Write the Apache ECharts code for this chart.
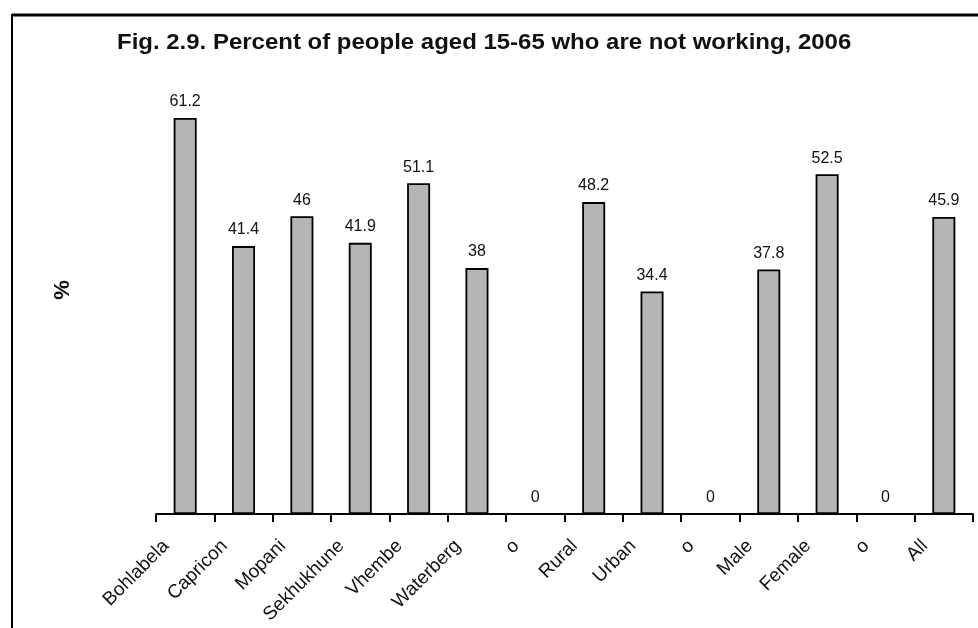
<!DOCTYPE html>
<html>
<head>
<meta charset="utf-8">
<script src="https://cdn.jsdelivr.net/npm/echarts@6/dist/echarts.min.js"></script>
<style>
html,body{margin:0;padding:0;background:#fff;}
#c{width:978px;height:628px;}
</style>
</head>
<body>
<div id="c"></div>
<script>
var categories = ['Bohlabela','Capricon','Mopani','Sekhukhune','Vhembe','Waterberg','o','Rural','Urban','o','Male','Female','o','All'];
var values = [61.2, 41.4, 46, 41.9, 51.1, 38, 0, 48.2, 34.4, 0, 37.8, 52.5, 0, 45.9];
var titleText = 'Fig. 2.9. Percent of people aged 15-65 who are not working, 2006';
var yName = '%';

var FONT = 'Liberation Sans, Arial, sans-serif';
var chart = echarts.init(document.getElementById('c'));
chart.setOption({
  animation: false,
  backgroundColor: '#fff',
  graphic: [
    {type: 'line', shape: {x1: 12, y1: 15, x2: 978, y2: 15}, style: {stroke: '#000', lineWidth: 3}},
    {type: 'line', shape: {x1: 12, y1: 14, x2: 12, y2: 628}, style: {stroke: '#000', lineWidth: 2}},
    {type: 'text', x: 117, y: 32, scaleX: 1.09,
     style: {text: titleText, font: 'bold 22px ' + FONT, fill: '#111', align: 'left', verticalAlign: 'top'}},
    {type: 'text', x: 63, y: 290, rotation: Math.PI / 2,
     style: {text: yName, font: 'bold 22px ' + FONT, fill: '#111', align: 'center', verticalAlign: 'middle'}}
  ],
  grid: {left: 156, right: 5, top: 61, bottom: 114},
  xAxis: {
    type: 'category',
    data: categories,
    axisLine: {lineStyle: {color: '#000', width: 2}},
    axisTick: {show: true, length: 8, lineStyle: {color: '#000', width: 2}},
    axisLabel: {
      rotate: 45, margin: 10, interval: 0,
      padding: [0, 27, 0, 0],
      fontFamily: FONT, fontSize: 19, color: '#111'
    }
  },
  yAxis: {
    type: 'value', min: 0, max: 70,
    show: false,
    splitLine: {show: false}
  },
  series: [{
    type: 'bar',
    data: values,
    barWidth: 23,
    itemStyle: {color: '#b5b5b5', borderColor: '#000', borderWidth: 1.8},
    label: {
      show: true, position: 'top', distance: 8,
      fontFamily: FONT, fontSize: 16, color: '#111'
    }
  }]
});
</script>
</body>
</html>
